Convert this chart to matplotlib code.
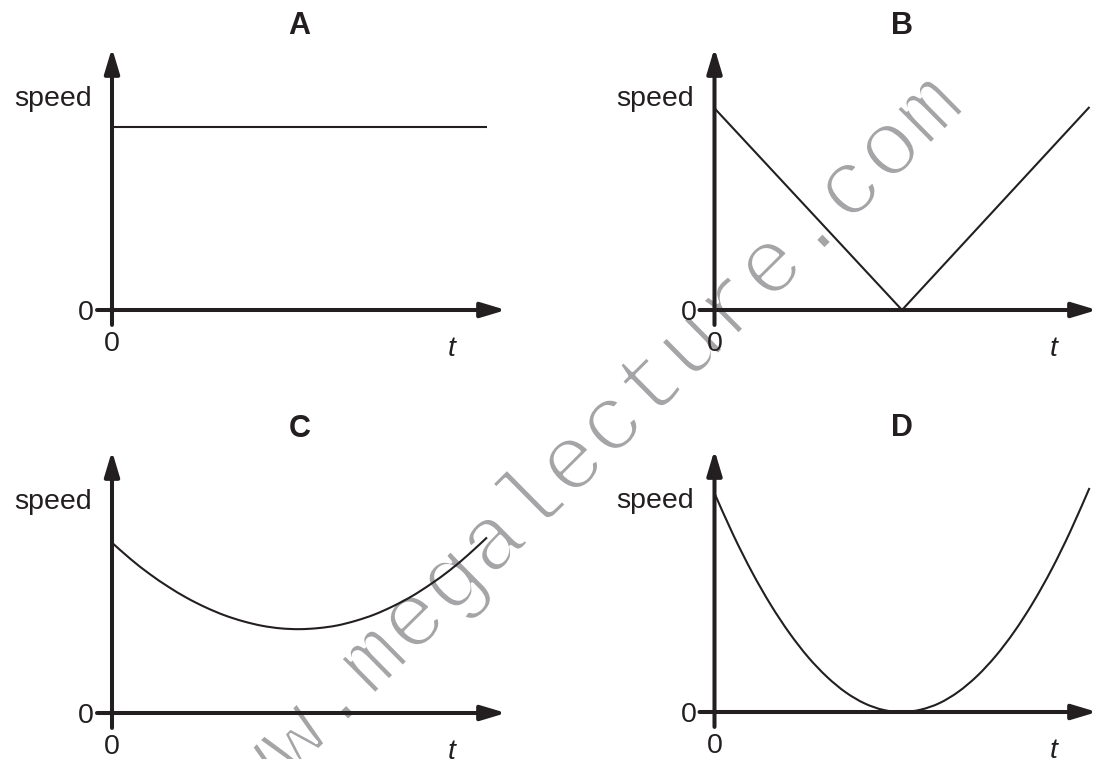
import matplotlib
matplotlib.use("Agg")
import matplotlib.pyplot as plt
import matplotlib.patheffects as pe
from matplotlib.path import Path
from matplotlib.patches import PathPatch

# panel titles
panel_names = ["A", "B", "C", "D"]

# speed readings (axis units: t 0..10, speed 0..10 = top of arrow)
t_a = [0, 10]
speed_a = [7.0, 7.0]

t_b = [0, 5, 10]
speed_b = [7.7, 0.0, 7.75]

t_curve = [0, 0.5, 1, 1.5, 2, 2.5, 3, 3.5, 4, 4.5, 5,
           5.5, 6, 6.5, 7, 7.5, 8, 8.5, 9, 9.5, 10]
speed_c = [6.5, 5.87, 5.31, 4.82, 4.39, 4.03, 3.73, 3.50, 3.33, 3.23, 3.2,
           3.24, 3.34, 3.52, 3.76, 4.08, 4.46, 4.92, 5.44, 6.04, 6.7]
speed_d = [8.35, 6.76, 5.34, 4.09, 3.01, 2.09, 1.34, 0.75, 0.33, 0.08, 0.0,
           0.09, 0.34, 0.77, 1.37, 2.14, 3.08, 4.19, 5.47, 6.93, 8.55]

series = [(t_a, speed_a, False), (t_b, speed_b, False),
          (t_curve, speed_c, True), (t_curve, speed_d, True)]

INK = "#231f20"
W, H = 1098, 759
PX_T = 37.5    # pixels per t unit
PX_S = 26.2    # pixels per speed unit

# (origin x, origin y, arrow tip x) in pixels for each panel
panel_boxes = [(112, 310, 506), (714.5, 310, 1097), (112, 713, 506), (714.5, 712, 1097)]


def smooth_path(xs, ys):
    # catmull-rom through the read points, as cubic bezier segments
    pts = list(zip(xs, ys))
    verts = [pts[0]]
    codes = [Path.MOVETO]
    n = len(pts)
    for i in range(n - 1):
        p0 = pts[max(i - 1, 0)]
        p1 = pts[i]
        p2 = pts[i + 1]
        p3 = pts[min(i + 2, n - 1)]
        c1 = (p1[0] + (p2[0] - p0[0]) / 6, p1[1] + (p2[1] - p0[1]) / 6)
        c2 = (p2[0] - (p3[0] - p1[0]) / 6, p2[1] - (p3[1] - p1[1]) / 6)
        verts += [c1, c2, p2]
        codes += [Path.CURVE4] * 3
    return Path(verts, codes)


plt.rcParams["font.family"] = ["Liberation Sans", "DejaVu Sans"]

fig = plt.figure(figsize=(W / 100, H / 100), dpi=100)

for name, (tt, ss, curved), (ox, oy, tip) in zip(panel_names, series, panel_boxes):
    t_max = (tip - ox) / PX_T
    ax = fig.add_axes([ox / W, 1 - oy / H, (tip - ox) / W, 10 * PX_S / H])
    ax.set_xlim(0, t_max)
    ax.set_ylim(0, 10)
    ax.axis("off")

    if curved:
        ax.add_patch(PathPatch(smooth_path(tt, ss), facecolor="none", edgecolor=INK,
                               lw=1.5, clip_on=False, zorder=2))
    else:
        ax.plot(tt, ss, color=INK, lw=1.5, clip_on=False, solid_capstyle="butt", zorder=2)

    arrow = dict(arrowstyle="-|>,head_length=1.5,head_width=0.45", color=INK, lw=2.9,
                 mutation_scale=10, shrinkA=0, shrinkB=0)
    ax.annotate("", xy=(t_max, 0), xytext=(-0.4, 0), arrowprops=arrow,
                annotation_clip=False, zorder=3)
    ax.annotate("", xy=(0, 10), xytext=(0, -0.57), arrowprops=arrow,
                annotation_clip=False, zorder=3)

    ax.text(-0.55, 7.77, "speed", ha="right", va="baseline", fontsize=20.5, color=INK)
    ax.text(-0.48, -0.40, "0", ha="right", va="baseline", fontsize=20.5, color=INK)
    ax.text(0, -1.55, "0", ha="center", va="baseline", fontsize=20.5, color=INK)
    ax.text(9.05, -1.76, "t", ha="center", va="baseline", fontsize=20.5,
            style="italic", color=INK)
    ax.text(5.0, 10.53, name, ha="center", va="baseline", fontsize=22,
            fontweight="bold", color=INK)

# diagonal watermark across the sheet, drawn under the panels (thinned with a white edge)
fig.text(589.5 / W, 1 - 482 / H, "www.megalecture.com", rotation=44.7,
         rotation_mode="anchor", ha="center", va="baseline",
         fontfamily="Liberation Mono", fontsize=67, color="#a5a5a8", zorder=-1,
         path_effects=[pe.Normal(), pe.Stroke(linewidth=2.4, foreground="white")])

fig.savefig("out.png", dpi=100)
